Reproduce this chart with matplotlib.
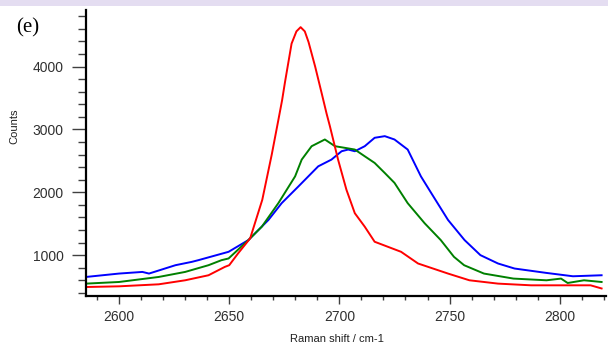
import matplotlib.pyplot as plt
from matplotlib.patches import Rectangle
from matplotlib.ticker import MultipleLocator

# Raman 2D band spectra
red_x = [2585, 2600, 2618, 2630, 2640.6, 2648, 2650, 2654, 2659.5, 2665, 2669.3, 2672.3,
         2674, 2675.3, 2678.3, 2680.5, 2682.4, 2684.3, 2686, 2689, 2692, 2694.2, 2695.7,
         2699.4, 2703.2, 2707, 2711.5, 2716, 2722, 2728, 2735.7, 2749.3, 2759, 2772,
         2787, 2802, 2814, 2819]
red_y = [493, 504, 536, 600, 680, 813, 840, 1027, 1267, 1880, 2600, 3150,
         3465, 3750, 4365, 4560, 4627, 4560, 4390, 4000, 3570, 3250, 3050,
         2520, 2040, 1667, 1453, 1213, 1133, 1053, 867, 707, 600, 547,
         520, 520, 520, 470]

green_x = [2585, 2600, 2618, 2630, 2640.6, 2646.5, 2649.7, 2658.7, 2664.8, 2672.3, 2679.9,
           2682.9, 2687.4, 2693.4, 2698, 2702.5, 2707, 2711.5, 2716, 2720.6, 2725, 2731,
           2738.7, 2746, 2752, 2756.6, 2765.6, 2779, 2794, 2800.6, 2803.6, 2811, 2819]
green_y = [547, 573, 653, 733, 840, 920, 947, 1240, 1453, 1827, 2253,
           2520, 2733, 2840, 2733, 2707, 2680, 2573, 2467, 2307, 2150, 1827,
           1507, 1240, 973, 840, 707, 627, 600, 627, 557, 600, 573]

blue_x = [2585, 2600, 2610.6, 2613.6, 2625.6, 2633, 2636, 2649.7, 2658.7, 2667.8, 2673.8,
          2681.4, 2690.4, 2696.4, 2701, 2704, 2707, 2711.5, 2716, 2720.6, 2725, 2731,
          2737, 2741.7, 2749.3, 2756.8, 2764, 2772, 2779.5, 2794, 2806, 2819]
blue_y = [653, 707, 733, 707, 840, 893, 920, 1053, 1240, 1560, 1827,
          2093, 2413, 2520, 2653, 2680, 2653, 2733, 2867, 2893, 2840, 2680,
          2253, 1987, 1560, 1240, 1000, 867, 787, 717, 664, 680]

fig = plt.figure(figsize=(6.08, 3.47), dpi=100)
fig.patches.append(Rectangle((0, 1 - 6 / 347), 1, 6 / 347, transform=fig.transFigure,
                             facecolor="#e4ddf1", edgecolor="none", zorder=0))

ax = fig.add_axes([86 / 608, 51 / 347, 520 / 608, 286 / 347])
ax.plot(blue_x, blue_y, color="#0000ff", lw=1.4)
ax.plot(green_x, green_y, color="#008000", lw=1.4)
ax.plot(red_x, red_y, color="#ff0000", lw=1.4)

ax.set_xlim(2585, 2821)
ax.set_ylim(350, 4900)
ax.spines["top"].set_visible(False)
ax.spines["right"].set_visible(False)
ax.spines["left"].set_linewidth(1.6)
ax.spines["bottom"].set_linewidth(1.6)

ax.xaxis.set_major_locator(MultipleLocator(50))
ax.xaxis.set_minor_locator(MultipleLocator(10))
ax.yaxis.set_major_locator(MultipleLocator(1000))
ax.yaxis.set_minor_locator(MultipleLocator(200))

tick_color = "#303030"
ax.tick_params(axis="y", which="major", length=10, width=1, color="#404040",
               pad=6, labelsize=10, labelcolor=tick_color)
ax.tick_params(axis="y", which="minor", length=6, width=1, color="#404040")
ax.tick_params(axis="x", which="major", length=6, width=1, color="#404040",
               pad=4, labelsize=10, labelcolor=tick_color)
ax.tick_params(axis="x", which="minor", length=3, width=1, color="#404040")
for lab in ax.get_xticklabels() + ax.get_yticklabels():
    lab.set_family("Liberation Sans")

fig.text(14 / 608, 1 - 126 / 347, "Counts", rotation=90, ha="center", va="center",
         fontsize=8, family="Liberation Sans", color="#202020")
fig.text(337 / 608, 1 - 339 / 347, "Raman shift / cm-1", ha="center", va="center",
         fontsize=8, family="Liberation Sans", color="#202020")
fig.text(28 / 608, 1 - 28 / 347, "(e)", ha="center", va="center",
         fontsize=15, family="Liberation Serif", color="black")

fig.savefig("out.png", dpi=100)
